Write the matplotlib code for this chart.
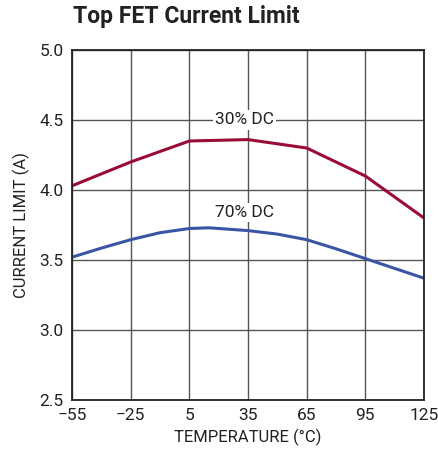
import matplotlib
matplotlib.use('Agg')
import matplotlib.pyplot as plt

temp_30 = [-55, -25, 5, 35, 65, 95, 125]
limit_30 = [4.03, 4.20, 4.35, 4.36, 4.30, 4.10, 3.80]

temp_70 = [-55, -40, -25, -10, 5, 15, 35, 50, 65, 80, 95, 110, 125]
limit_70 = [3.52, 3.585, 3.645, 3.695, 3.725, 3.73, 3.71, 3.685, 3.645, 3.58, 3.51, 3.44, 3.37]

xticks = [-55, -25, 5, 35, 65, 95, 125]
xticklabels = ['\u221255', '\u221225', '5', '35', '65', '95', '125']
yticks = [2.5, 3.0, 3.5, 4.0, 4.5, 5.0]

plt.rcParams['font.family'] = ['Roboto', 'DejaVu Sans']

fig = plt.figure(figsize=(4.38, 4.55), dpi=100)
ax = fig.add_axes([72 / 438, 55 / 455, 352 / 438, 350 / 455])

ax.plot(temp_30, limit_30, color='#9a0b36', lw=2.2, solid_joinstyle='round')
ax.plot(temp_70, limit_70, color='#3a55a5', lw=2.2, solid_joinstyle='round')

ax.set_xlim(-55, 125)
ax.set_ylim(2.5, 5.0)
ax.set_xticks(xticks)
ax.set_xticklabels(xticklabels)
ax.set_yticks(yticks)
ax.set_yticklabels([f'{v:.1f}' for v in yticks])
ax.tick_params(length=0, labelsize=12.5, colors='#222222')
ax.tick_params(axis='x', pad=6)
ax.tick_params(axis='y', pad=6)
ax.grid(True, color='#555555', lw=1)
for s in ax.spines.values():
    s.set_color('#222222')
    s.set_linewidth(1.3)

ax.text(33, 4.5, '30% DC', fontsize=12.5, ha='center', va='center', color='#222222',
        bbox=dict(facecolor='white', edgecolor='none', pad=1.5))
ax.text(33, 3.84, '70% DC', fontsize=12.5, ha='center', va='center', color='#222222',
        bbox=dict(facecolor='white', edgecolor='none', pad=1.5))

ax.set_xlabel('TEMPERATURE (\u00b0C)', fontsize=12, color='#222222', labelpad=4)
ax.set_ylabel('CURRENT LIMIT (A)', fontsize=12, color='#222222', labelpad=7)
fig.text(73 / 438, 1 - 17 / 455, 'Top FET Current Limit', fontsize=16.5, fontweight='bold',
         ha='left', va='center', color='#222222')

fig.savefig('out.png', dpi=100)
